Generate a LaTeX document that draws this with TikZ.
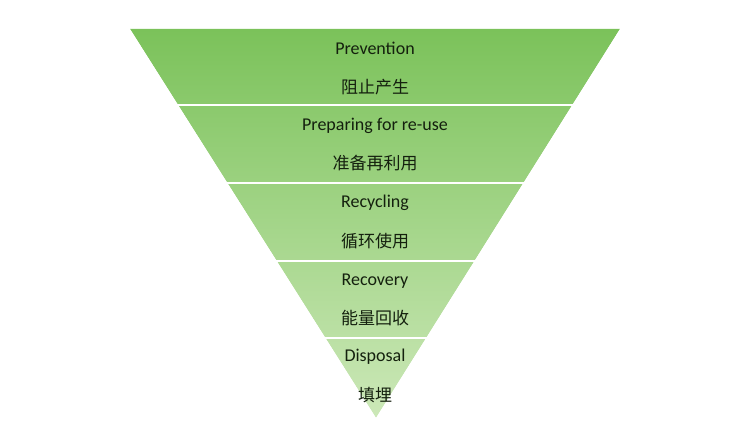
\documentclass[tikz,border=0pt]{standalone}
\usepackage{fontspec}
\setmainfont{Carlito}
\newfontfamily\cjk{Noto Sans CJK SC}
\definecolor{gtop}{HTML}{7BC25A}
\definecolor{gbot}{HTML}{CCE8B8}
\definecolor{txt}{HTML}{14200E}
\begin{document}
\begin{tikzpicture}[x=1pt,y=-1pt,
  lbl/.style={font=\fontsize{18}{20}\selectfont,text=txt,inner sep=0pt},
  clbl/.style={font=\cjk\fontsize{17}{19}\selectfont,text=txt,inner sep=0pt},
  sep/.style={white,line width=1.6pt}]
\useasboundingbox (0,0) rectangle (739,443);
\fill[white] (0,0) rectangle (739,443);
\coordinate (tl) at (130,29);
\coordinate (tr) at (620,29);
\coordinate (ap) at (376,418);
\begin{scope}
\clip (tl) -- (tr) -- (ap) -- cycle;
\shade[top color=gtop,bottom color=gbot] (130,29) rectangle (620,418);
\end{scope}
\foreach \y in {105,183,261,338}{
  \draw[sep] (100,\y) -- (650,\y);
}
\fill[white] (tl) -- (ap) -- (100,418) -- (100,29) -- cycle;
\fill[white] (tr) -- (ap) -- (650,418) -- (650,29) -- cycle;
\node[lbl] (n1) at (375,48) {Prevention};
\node[clbl] (c1) at (375,87) {阻止产生};
\node[lbl] (n2) at (375,126) {Preparing for re-use};
\node[clbl] (c2) at (375,163) {准备再利用};
\node[lbl] (n3) at (375,203) {Recycling};
\node[clbl] (c3) at (375,241) {循环使用};
\node[lbl] (n4) at (375,281) {Recovery};
\node[clbl] (c4) at (375,318) {能量回收};
\node[lbl] (n5) at (375,357) {Disposal};
\node[clbl] (c5) at (375,395) {填埋};
\end{tikzpicture}
\end{document}
